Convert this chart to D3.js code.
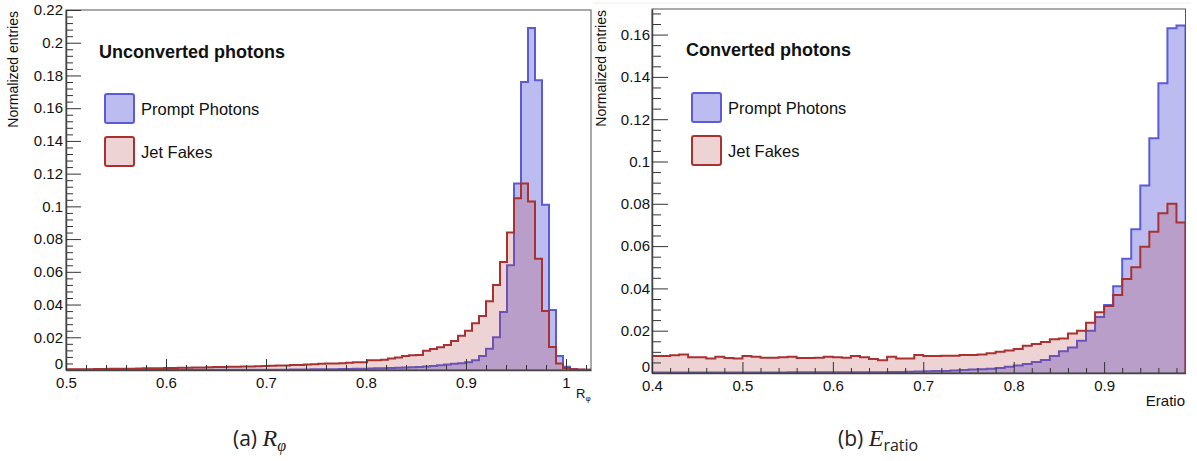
<!DOCTYPE html>
<html>
<head>
<meta charset="utf-8">
<script src="https://cdn.jsdelivr.net/npm/d3@7"></script>
<style>
  body { margin: 0; background: #fff; }
  svg { display: block; }
  text { font-family: "Liberation Sans", Arial, sans-serif; }
</style>
</head>
<body>
<svg id="chart" width="1197" height="461"></svg>
<script>
// R_phi histograms (unconverted photons), 75 bins of 0.007 from 0.5
const rphiBins = { start: 0.5, width: 0.007 };
const rphiPrompt = [
  0.0001, 0.0001, 0.0001, 0.0001, 0.0001, 0.0001, 0.0001, 0.0001, 0.0001, 0.0001,
  0.0001, 0.0001, 0.0001, 0.0001, 0.0001, 0.0001, 0.0001, 0.0001, 0.0001, 0.0001,
  0.0001, 0.0001, 0.0001, 0.0002, 0.0002, 0.0002, 0.0002, 0.0002, 0.0002, 0.0002,
  0.0002, 0.0002, 0.0003, 0.0003, 0.0003, 0.0004, 0.0004, 0.0005, 0.0005, 0.0006,
  0.0006, 0.0007, 0.0008, 0.0009, 0.0010, 0.0011, 0.0012, 0.0013, 0.0015, 0.0017,
  0.0019, 0.0022, 0.0025, 0.0029, 0.0033, 0.0038, 0.0042, 0.0048, 0.0060, 0.0086,
  0.0130, 0.0200, 0.0355, 0.0640, 0.1140, 0.1760, 0.2090, 0.1770, 0.1010, 0.0367,
  0.0086, 0.0020, 0.0006, 0.0002, 0.0001
];
const rphiFakes = [
  0.0004, 0.0005, 0.0005, 0.0005, 0.0006, 0.0006, 0.0007, 0.0007, 0.0008, 0.0008,
  0.0009, 0.0010, 0.0010, 0.0011, 0.0012, 0.0012, 0.0013, 0.0014, 0.0015, 0.0016,
  0.0017, 0.0018, 0.0019, 0.0020, 0.0020, 0.0021, 0.0022, 0.0023, 0.0025, 0.0026,
  0.0027, 0.0028, 0.0030, 0.0031, 0.0033, 0.0035, 0.0038, 0.0040, 0.0040, 0.0042,
  0.0045, 0.0047, 0.0047, 0.0060, 0.0060, 0.0062, 0.0070, 0.0077, 0.0085, 0.0090,
  0.0091, 0.0118, 0.0128, 0.0139, 0.0153, 0.0177, 0.0210, 0.0240, 0.0285, 0.0330,
  0.0420, 0.0520, 0.0660, 0.0840, 0.1050, 0.1140, 0.1030, 0.0680, 0.0360, 0.0140,
  0.0040, 0.0012, 0.0005, 0.0003, 0.0002
];

// E_ratio histograms (converted photons), 59 bins of 0.01 from 0.4
const eratioBins = { start: 0.4, width: 0.01 };
const eratioPrompt = [
  0.0002, 0.0002, 0.0002, 0.0002, 0.0002, 0.0002, 0.0002, 0.0002, 0.0002, 0.0002,
  0.0002, 0.0002, 0.0002, 0.0002, 0.0002, 0.0003, 0.0003, 0.0003, 0.0003, 0.0003,
  0.0003, 0.0003, 0.0003, 0.0004, 0.0004, 0.0004, 0.0005, 0.0005, 0.0006, 0.0007,
  0.0008, 0.0009, 0.0010, 0.0012, 0.0014, 0.0016, 0.0018, 0.0020, 0.0024, 0.0029,
  0.0035, 0.0042, 0.0052, 0.0062, 0.0080, 0.0103, 0.0120, 0.0152, 0.0200, 0.0265,
  0.0322, 0.0410, 0.0540, 0.0680, 0.0886, 0.1110, 0.1370, 0.1630, 0.1643
];
const eratioFakes = [
  0.0080, 0.0080, 0.0084, 0.0088, 0.0074, 0.0074, 0.0069, 0.0077, 0.0071, 0.0069,
  0.0080, 0.0077, 0.0072, 0.0072, 0.0074, 0.0077, 0.0071, 0.0071, 0.0072, 0.0077,
  0.0074, 0.0072, 0.0080, 0.0074, 0.0066, 0.0060, 0.0077, 0.0069, 0.0069, 0.0085,
  0.0080, 0.0080, 0.0082, 0.0082, 0.0085, 0.0085, 0.0088, 0.0093, 0.0101, 0.0106,
  0.0113, 0.0129, 0.0137, 0.0146, 0.0160, 0.0163, 0.0187, 0.0200, 0.0238, 0.0287,
  0.0317, 0.0369, 0.0444, 0.0500, 0.0597, 0.0668, 0.0755, 0.0800, 0.0712
];

// tick values
const rphiXMajor = [0.5, 0.6, 0.7, 0.8, 0.9, 1.0];
const rphiYMajor = [0, 0.02, 0.04, 0.06, 0.08, 0.1, 0.12, 0.14, 0.16, 0.18, 0.2, 0.22];
const eratioXMajor = [0.4, 0.5, 0.6, 0.7, 0.8, 0.9];
const eratioYMajor = [0, 0.02, 0.04, 0.06, 0.08, 0.1, 0.12, 0.14, 0.16];
const legendLabels = ["Prompt Photons", "Jet Fakes"];

const blueLine = "#5b5bd6";
const redLine = "#a83232";
const blueFill = "rgba(95,95,222,0.42)";
const redFill = "rgba(175,55,55,0.22)";

const svg = d3.select("#chart");
const defs = svg.append("defs");

function drawPanel(cfg) {
  const x = d3.scaleLinear().domain(cfg.xDomain).range(cfg.xRange);
  const y = d3.scaleLinear().domain(cfg.yDomain).range(cfg.yRange);
  const g = svg.append("g");

  defs.append("clipPath").attr("id", cfg.id + "clip")
    .append("rect")
    .attr("x", cfg.xRange[0]).attr("y", cfg.yRange[1])
    .attr("width", cfg.xRange[1] - cfg.xRange[0])
    .attr("height", cfg.yRange[0] - cfg.yRange[1]);

  const histPath = vals => {
    const pts = [[x(cfg.bins.start), y(0)]];
    vals.forEach((v, i) => {
      pts.push([x(cfg.bins.start + i * cfg.bins.width), y(v)]);
      pts.push([x(cfg.bins.start + (i + 1) * cfg.bins.width), y(v)]);
    });
    pts.push([x(cfg.bins.start + vals.length * cfg.bins.width), y(0)]);
    return d3.line()(pts);
  };

  const hg = g.append("g").attr("clip-path", `url(#${cfg.id}clip)`);
  hg.append("path").attr("d", histPath(cfg.prompt))
    .attr("fill", blueFill).attr("stroke", blueLine).attr("stroke-width", 2);
  hg.append("path").attr("d", histPath(cfg.fakes))
    .attr("fill", redFill).attr("stroke", redLine).attr("stroke-width", 2);

  // frame
  g.append("rect")
    .attr("x", cfg.xRange[0]).attr("y", cfg.yRange[1])
    .attr("width", cfg.xRange[1] - cfg.xRange[0])
    .attr("height", cfg.yRange[0] - cfg.yRange[1])
    .attr("fill", "none").attr("stroke", "#555").attr("stroke-width", 1);

  // minor ticks
  const yMinor = d3.range(0, cfg.yDomain[1] + 1e-9, cfg.yMinorStep)
    .filter(v => Math.abs(v / 0.02 - Math.round(v / 0.02)) > 1e-6);
  const xMinor = d3.range(cfg.xDomain[0], cfg.xDomain[1] + 1e-9, 0.02)
    .filter(v => Math.abs(v / 0.1 - Math.round(v / 0.1)) > 1e-6);

  g.append("g").attr("transform", `translate(${cfg.xRange[0]},0)`)
    .call(d3.axisLeft(y).tickValues(yMinor).tickSize(-cfg.yMinorLen).tickFormat(""))
    .call(a => a.select(".domain").remove());
  g.append("g").attr("transform", `translate(0,${cfg.yRange[0]})`)
    .call(d3.axisBottom(x).tickValues(xMinor).tickSize(-5).tickFormat(""))
    .call(a => a.select(".domain").remove());

  const yAxis = g.append("g").attr("transform", `translate(${cfg.xRange[0]},0)`)
    .call(d3.axisLeft(y).tickValues(cfg.yMajor).tickSize(-cfg.yMajorLen).tickSizeOuter(0)
      .tickPadding(cfg.yPad).tickFormat(d3.format("~g")));
  const xAxis = g.append("g").attr("transform", `translate(0,${cfg.yRange[0]})`)
    .call(d3.axisBottom(x).tickValues(cfg.xMajor).tickSize(-11).tickSizeOuter(0)
      .tickPadding(7).tickFormat(d3.format("~g")));

  [yAxis, xAxis].forEach(a => {
    a.selectAll("text").attr("font-size", 15).attr("fill", "#111")
      .attr("font-family", "'Liberation Sans', Arial, sans-serif");
    a.select(".domain").attr("stroke", "#444").attr("stroke-width", 1.5);
  });
  // lift the zero label so it sits just above the first x label
  yAxis.selectAll(".tick text").filter(d => d === 0).attr("dy", "-0.08em");
  g.selectAll("line").attr("stroke", "#333");

  // y title
  g.append("text")
    .attr("transform", `translate(${cfg.yTitleX},${cfg.yRange[1] + 1}) rotate(-90)`)
    .attr("text-anchor", "end").attr("font-size", 14).attr("fill", "#111")
    .text("Normalized entries");

  // panel title
  g.append("text")
    .attr("x", cfg.titleX).attr("y", cfg.titleY)
    .attr("font-size", 18).attr("font-weight", "bold").attr("fill", "#111")
    .text(cfg.title);

  // legend
  const fills = [blueFill, redFill];
  const strokes = [blueLine, redLine];
  legendLabels.forEach((lab, i) => {
    g.append("rect")
      .attr("x", cfg.legX).attr("y", cfg.legY + i * 43)
      .attr("width", 29).attr("height", 29).attr("rx", 2)
      .attr("fill", fills[i]).attr("stroke", strokes[i]).attr("stroke-width", 2);
    g.append("text")
      .attr("x", cfg.legX + 36).attr("y", cfg.legY + i * 43 + 21)
      .attr("font-size", 16.5).attr("fill", "#111")
      .text(lab);
  });
  return g;
}

const left = drawPanel({
  id: "a", xDomain: [0.5, 1.025], xRange: [66, 591],
  yDomain: [0, 0.22], yRange: [370, 10],
  bins: rphiBins, prompt: rphiPrompt, fakes: rphiFakes,
  xMajor: rphiXMajor, yMajor: rphiYMajor,
  yMinorStep: 0.004, yMajorLen: 15, yMinorLen: 7, yPad: 3,
  yTitleX: 18, title: "Unconverted photons", titleX: 99, titleY: 58,
  legX: 105, legY: 94
});

const right = drawPanel({
  id: "b", xDomain: [0.4, 0.99], xRange: [652, 1185.5],
  yDomain: [0, 0.1721], yRange: [373, 9],
  bins: eratioBins, prompt: eratioPrompt, fakes: eratioFakes,
  xMajor: eratioXMajor, yMajor: eratioYMajor,
  yMinorStep: 0.005, yMajorLen: 16, yMinorLen: 9, yPad: 2,
  yTitleX: 606, title: "Converted photons", titleX: 686, titleY: 56,
  legX: 692, legY: 93
});

// x axis titles
const rt = left.append("text").attr("x", 576).attr("y", 398).attr("font-size", 13).attr("fill", "#111");
rt.append("tspan").text("R");
rt.append("tspan").attr("font-size", 8).attr("dy", 3).text("φ");

right.append("text").attr("x", 1185).attr("y", 406).attr("text-anchor", "end")
  .attr("font-size", 15).attr("fill", "#111").text("Eratio");

// faint page edge at top of right pad
svg.append("line").attr("x1", 593).attr("x2", 1190).attr("y1", 3).attr("y2", 3)
  .attr("stroke", "#eee").attr("stroke-width", 1);

// sub-figure captions
function caption(xPos, letter, sym, sub, subItalic) {
  const t = svg.append("text").attr("x", xPos).attr("y", 446).attr("fill", "#222");
  t.append("tspan").attr("font-family", "'Open Sans', sans-serif").attr("font-size", 21).text(`(${letter}) `);
  t.append("tspan").attr("font-family", "'Liberation Serif', serif").attr("font-style", "italic")
    .attr("font-size", 24).text(sym);
  t.append("tspan")
    .attr("font-family", subItalic ? "'Liberation Serif', serif" : "'Open Sans', sans-serif")
    .attr("font-style", subItalic ? "italic" : "normal")
    .attr("font-size", 16).attr("dy", 5).text(sub);
}
caption(233, "a", "R", "φ", true);
caption(838, "b", "E", "ratio", false);
</script>
</body>
</html>
